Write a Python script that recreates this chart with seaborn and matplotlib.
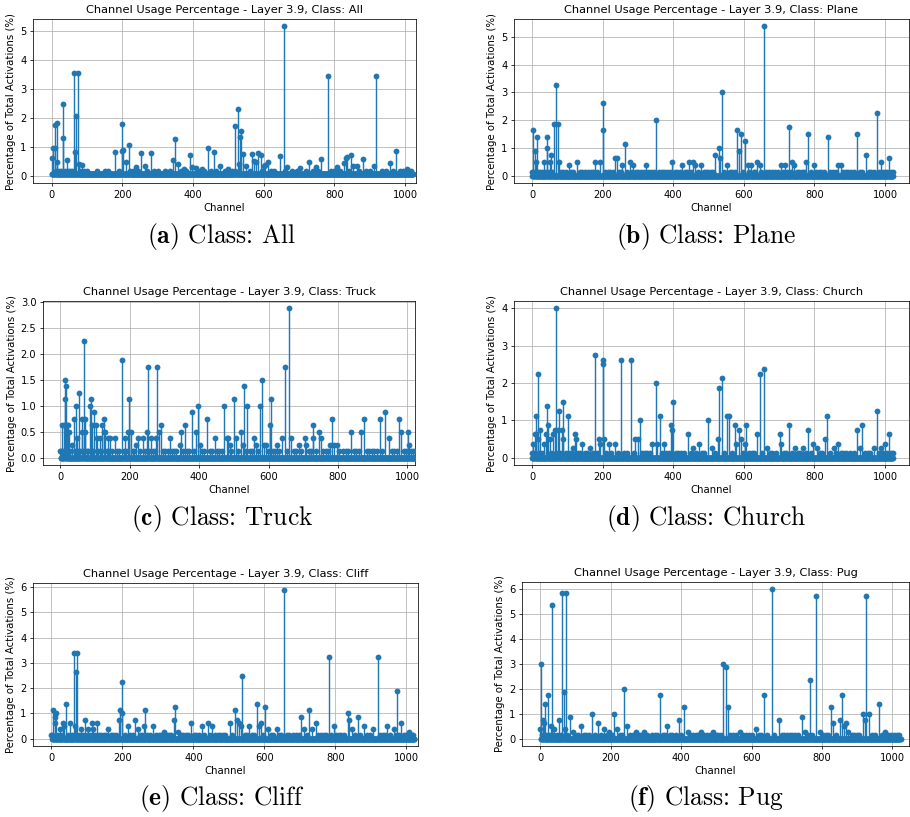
import numpy as np
import pandas as pd
import matplotlib
matplotlib.use("Agg")
import matplotlib.pyplot as plt
from matplotlib.ticker import MultipleLocator
import seaborn as sns

n_channels = 1024
layer = "3.9"

# (a) All  -- peaks, the rest is a small floor
all_peak_ch = [2, 5, 8, 9, 14, 15, 32, 33, 42, 64, 67, 70, 73, 76, 85, 179, 198, 200, 202, 210, 218,
               238, 254, 263, 280, 342, 349, 358, 373, 391, 396, 408, 425, 441, 458, 476, 500,
               518, 526, 529, 533, 537, 542, 550, 567, 573, 578, 584, 591, 600, 605, 611, 645, 656, 666,
               704, 727, 748, 763, 781, 807, 827, 832, 836, 847, 854, 863, 882, 913, 918, 958, 974, 1005]
all_peak_val = [0.6, 0.95, 0.95, 1.75, 1.8, 0.48, 1.29, 2.45, 0.52, 3.55, 0.82, 2.04, 3.55, 0.4, 0.37,
                0.82, 1.78, 0.86, 0.88, 0.45, 1.07, 0.31, 0.77, 0.34, 0.77, 0.55, 1.26, 0.41, 0.23,
                0.72, 0.31, 0.27, 0.23, 0.95, 0.81, 0.32, 0.23, 1.71, 2.28, 0.40, 1.34, 1.54, 0.76, 0.34,
                0.73, 0.5, 0.46, 0.78, 0.72, 0.34, 0.37, 0.48, 0.68, 5.14, 0.29, 0.26, 0.46, 0.29, 0.58,
                3.42, 0.29, 0.43, 0.61, 0.65, 0.72, 0.34, 0.32, 0.56, 0.34, 3.42, 0.43, 0.84, 0.23]
all_low_ch = [12, 20, 26, 38, 47, 52, 58, 80, 92, 100, 128, 150, 160, 190, 222, 230, 245, 270, 290, 300,
              320, 335, 365, 380, 415, 432, 450, 465, 490, 510, 520, 560, 595, 620, 630, 660, 680, 695,
              720, 740, 755, 790, 800, 815, 840, 870, 890, 900, 935, 945, 965, 985, 995, 1012, 1018]
all_low_val = 0.17
all_floor = 0.05

# (b) Plane
plane_peak_ch = [4, 8, 12, 15, 33, 42, 43, 51, 55, 63, 69, 73, 77, 104, 128, 179, 192, 200, 202, 235,
                 240, 255, 264, 278, 287, 322, 351, 396, 426, 444, 455, 463, 479, 519, 529, 533, 538,
                 552, 580, 586, 592, 603, 611, 621, 638, 646, 657, 706, 716, 728, 736, 742, 777, 783,
                 798, 838, 867, 874, 921, 947, 976, 988, 1012]
plane_peak_val = [1.625, 0.875, 0.5, 1.375, 0.5, 1.0, 1.375, 0.5, 0.75, 1.875, 3.25, 1.875, 0.5, 0.375,
                  0.5, 0.5, 0.5, 2.625, 1.625, 0.625, 0.625, 0.375, 1.125, 0.5, 0.375, 0.375, 2.0, 0.5,
                  0.375, 0.5, 0.5, 0.375, 0.375, 0.75, 1.0, 0.625, 3.0, 0.375, 1.625, 0.875, 1.5, 1.25,
                  0.375, 0.375, 0.5, 0.375, 5.375, 0.375, 0.375, 1.75, 0.5, 0.375, 0.5, 1.5, 0.375,
                  1.375, 0.375, 0.375, 1.5, 0.75, 2.25, 0.5, 0.625]
plane_low_ch = [1, 6, 18, 22, 27, 36, 47, 58, 81, 88, 95, 110, 117, 135, 142, 150, 158, 166, 172, 185,
                208, 214, 221, 229, 246, 251, 270, 283, 295, 301, 309, 316, 330, 338, 345, 360, 367,
                374, 383, 390, 404, 412, 419, 433, 440, 451, 470, 486, 493, 500, 507, 514, 545, 560,
                567, 574, 597, 615, 628, 633, 650, 664, 672, 680, 689, 697, 712, 721, 733, 750, 757,
                764, 771, 790, 805, 812, 820, 826, 845, 852, 860, 881, 889, 896, 903, 912, 929, 936,
                954, 961, 968, 982, 995, 1001, 1007, 1018, 1022]

# (c) Truck
truck_peak_ch = [5, 10, 12, 14, 15, 18, 22, 24, 33, 38, 44, 48, 54, 61, 62, 68, 70, 72, 85, 88, 92, 97,
                 102, 106, 113, 121, 125, 126, 130, 138, 144, 157, 178, 186, 195, 197, 203, 217, 225,
                 238, 249, 252, 262, 277, 279, 285, 291, 315, 344, 348, 359, 380, 392, 396, 402, 423,
                 445, 472, 479, 483, 488, 500, 507, 521, 525, 529, 539, 557, 563, 576, 581, 587, 594,
                 603, 607, 624, 638, 646, 658, 665, 687, 704, 709, 727, 728, 746, 750, 777, 783, 789,
                 796, 838, 867, 875, 921, 936, 947, 977, 982, 1001, 1004]
truck_peak_val = [0.625, 0.625, 1.125, 1.5, 1.375, 0.625, 0.625, 0.5, 0.25, 0.75, 1.0, 0.375, 1.25, 0.5,
                  0.75, 2.25, 0.5, 0.75, 1.0, 1.125, 0.625, 0.875, 0.625, 0.375, 0.375, 0.625, 0.5, 0.75,
                  0.5, 0.375, 0.375, 0.375, 1.875, 0.375, 0.5, 1.125, 0.5, 0.25, 0.375, 0.375, 0.5, 1.75,
                  0.375, 0.375, 1.75, 0.5, 0.625, 0.375, 0.25, 0.5, 0.625, 0.875, 0.5, 1.0, 0.25, 0.75,
                  0.375, 1.0, 0.375, 0.375, 0.25, 1.125, 0.375, 0.5, 0.25, 1.375, 1.0, 0.375, 0.25, 1.0,
                  1.5, 0.25, 0.25, 0.625, 1.125, 0.25, 0.375, 1.75, 2.875, 0.375, 0.25, 0.375, 0.25,
                  0.375, 0.625, 0.5, 0.375, 0.25, 0.75, 0.25, 0.25, 0.5, 0.5, 0.75, 0.75, 0.875, 0.375,
                  0.75, 0.5, 0.5, 0.25]
truck_low_ch = [0, 3, 8, 20, 28, 41, 51, 57, 66, 78, 81, 94, 109, 117, 134, 141, 150, 163, 170, 182,
                190, 209, 213, 230, 243, 256, 268, 272, 297, 303, 310, 322, 328, 334, 352, 366, 372,
                385, 409, 415, 430, 437, 452, 458, 466, 493, 513, 534, 546, 551, 570, 599, 614, 619,
                630, 652, 672, 679, 694, 716, 721, 737, 758, 765, 770, 803, 815, 822, 830, 845, 852,
                860, 883, 890, 898, 905, 913, 928, 955, 962, 969, 990, 995, 1010, 1016, 1021]

# (d) Church
church_peak_ch = [3, 8, 11, 12, 16, 17, 24, 33, 39, 43, 45, 50, 60, 64, 69, 74, 76, 86, 88, 89, 102, 116,
                  122, 124, 143, 165, 179, 189, 194, 200, 201, 205, 218, 236, 253, 281, 293, 301, 306,
                  340, 350, 355, 362, 374, 393, 396, 399, 443, 457, 474, 499, 509, 526, 529, 538, 552,
                  558, 575, 578, 586, 592, 604, 607, 638, 646, 657, 666, 702, 706, 728, 746, 769, 783,
                  796, 808, 830, 837, 855, 867, 921, 929, 936, 969, 976, 989, 1000, 1012]
church_peak_val = [0.375, 0.625, 0.625, 1.125, 2.25, 0.5, 0.75, 0.375, 0.625, 1.375, 0.875, 0.5, 0.625,
                   0.75, 4.0, 0.75, 1.25, 0.75, 0.5, 1.5, 1.125, 0.25, 0.625, 0.5, 0.375, 0.25, 2.75,
                   0.5, 0.375, 2.625, 2.5, 0.5, 0.375, 0.375, 2.625, 2.625, 0.5, 0.5, 1.0, 0.375, 2.0,
                   0.375, 1.125, 0.375, 0.875, 0.75, 1.5, 0.625, 0.25, 0.375, 1.0, 0.25, 0.5, 1.875,
                   2.125, 1.125, 1.125, 0.875, 0.375, 0.75, 0.5, 0.375, 0.875, 0.625, 2.25, 2.375, 0.25,
                   0.625, 0.375, 0.875, 0.25, 0.25, 0.75, 0.375, 0.25, 0.5, 1.125, 0.25, 0.375, 0.75,
                   0.25, 0.875, 0.25, 1.25, 0.25, 0.375, 0.625]
church_low_ch = [0, 6, 20, 28, 54, 67, 80, 95, 108, 112, 130, 136, 150, 157, 172, 185, 210, 225, 243,
                 260, 268, 288, 313, 320, 327, 335, 367, 381, 387, 407, 414, 421, 430, 450, 465, 481,
                 488, 517, 545, 566, 598, 615, 622, 630, 652, 674, 681, 690, 713, 720, 737, 753, 760,
                 777, 789, 815, 822, 844, 861, 874, 882, 890, 900, 913, 944, 951, 958, 983, 995, 1006,
                 1018, 1023]

# (e) Cliff
cliff_peak_ch = [5, 9, 11, 14, 24, 33, 36, 42, 52, 63, 65, 68, 72, 83, 95, 104, 113, 118, 127, 160, 189,
                 193, 199, 200, 216, 235, 243, 262, 264, 287, 318, 345, 348, 358, 393, 423, 440, 452,
                 502, 518, 523, 529, 533, 537, 558, 578, 584, 591, 601, 611, 635, 655, 704, 713, 726,
                 735, 745, 781, 796, 835, 838, 848, 865, 882, 907, 919, 946, 964, 974, 986, 1009]
cliff_peak_val = [1.125, 0.875, 0.625, 1.0, 0.375, 0.625, 0.5, 1.375, 0.625, 3.375, 0.5, 2.625, 3.375,
                  0.375, 0.75, 0.375, 0.625, 0.375, 0.625, 0.375, 0.75, 1.125, 2.25, 1.0, 0.5, 0.75,
                  0.375, 0.5, 1.125, 0.5, 0.25, 0.75, 1.25, 0.25, 0.625, 0.5, 0.625, 0.5, 0.625, 1.125,
                  0.75, 0.625, 0.5, 2.5, 0.5, 1.375, 0.5, 0.625, 1.25, 0.375, 0.375, 5.875, 0.875, 0.375,
                  1.125, 0.375, 0.625, 3.25, 0.5, 1.0, 0.75, 0.375, 0.875, 0.5, 0.375, 3.25, 0.5, 0.375,
                  1.875, 0.625, 0.25]
cliff_low_ch = [0, 2, 19, 29, 46, 57, 77, 88, 99, 109, 122, 133, 140, 147, 153, 167, 174, 181, 207, 222,
                229, 250, 256, 270, 277, 295, 302, 310, 325, 332, 338, 365, 372, 380, 386, 401, 408,
                415, 431, 446, 460, 468, 475, 483, 490, 510, 545, 552, 565, 572, 597, 618, 625, 642,
                648, 663, 670, 680, 690, 697, 719, 752, 760, 768, 775, 789, 803, 810, 817, 825, 855,
                870, 890, 897, 927, 934, 940, 953, 970, 980, 993, 1000, 1015, 1020]

# (f) Pug
pug_peak_ch = [0, 2, 8, 10, 13, 21, 31, 32, 40, 54, 63, 67, 69, 72, 83, 92, 116, 146, 164, 182, 196, 208,
               217, 238, 247, 271, 294, 340, 360, 394, 407, 418, 456, 491, 518, 526, 533, 568, 612, 636,
               657, 677, 744, 753, 765, 784, 794, 826, 831, 850, 858, 863, 867, 875, 916, 923, 924, 934,
               963, 979]
pug_peak_val = [0.375, 3.0, 0.75, 0.625, 1.375, 1.75, 0.5, 5.375, 0.375, 0.75, 5.875, 1.875, 0.375, 5.875,
                0.875, 0.25, 0.5, 1.0, 0.625, 0.375, 0.25, 1.0, 0.375, 2.0, 0.5, 0.25, 0.25, 1.75, 0.5,
                0.75, 1.25, 0.25, 0.25, 0.25, 3.0, 2.875, 1.25, 0.25, 0.375, 1.75, 6.0, 0.75, 0.875,
                0.25, 2.375, 5.75, 0.25, 1.25, 0.625, 0.75, 1.75, 0.5, 0.625, 0.25, 1.0, 0.75, 5.75, 1.0,
                1.375, 0.25]
pug_low_ch = [4, 16, 26, 36, 47, 59, 77, 99, 106, 124, 131, 139, 154, 171, 189, 203, 226, 232, 255, 263,
              280, 287, 302, 316, 325, 332, 347, 354, 368, 375, 385, 400, 425, 433, 441, 449, 465, 473,
              481, 499, 506, 513, 540, 548, 556, 576, 584, 592, 600, 620, 628, 645, 665, 685, 693, 700,
              708, 716, 724, 732, 760, 772, 802, 810, 818, 840, 884, 891, 899, 906, 942, 950, 970, 988,
              996, 1004, 1012, 1020]

class_low_val = 0.125


def usage(peak_ch, peak_val, low_ch, low_val, floor):
    pct = np.full(n_channels, floor)
    pct[low_ch] = low_val
    pct[peak_ch] = peak_val
    return pd.DataFrame({"channel": np.arange(n_channels), "pct": pct})


panels = [
    # name, tag, data, axes box in px (left, right, top, bottom), xlim, y tick step
    ("All", "a", usage(all_peak_ch, all_peak_val, all_low_ch, all_low_val, all_floor),
     (33, 416, 19, 183), (-53, 1031), 1),
    ("Plane", "b", usage(plane_peak_ch, plane_peak_val, plane_low_ch, class_low_val, 0.0),
     (514, 909, 19, 183), (-51, 1068), 1),
    ("Truck", "c", usage(truck_peak_ch, truck_peak_val, truck_low_ch, class_low_val, 0.0),
     (43, 415, 301, 465), (-50, 1022), 0.5),
    ("Church", "d", usage(church_peak_ch, church_peak_val, church_low_ch, class_low_val, 0.0),
     (514, 909, 301, 465), (-51, 1068), 1),
    ("Cliff", "e", usage(cliff_peak_ch, cliff_peak_val, cliff_low_ch, class_low_val, 0.0),
     (33, 418, 583, 746), (-52, 1033), 1),
    ("Pug", "f", usage(pug_peak_ch, pug_peak_val, pug_low_ch, class_low_val, 0.0),
     (522, 909, 582, 746), (-52, 1047), 1),
]

W, H, DPI = 910, 817, 68
plt.rcParams["axes.labelsize"] = 10.7
plt.rcParams["xtick.labelsize"] = 10.5
plt.rcParams["ytick.labelsize"] = 10.5
fig = plt.figure(figsize=(W / DPI, H / DPI), dpi=DPI)

for name, tag, df, (l, r, t, b), xlim, ystep in panels:
    ax = fig.add_axes([l / W, 1 - b / H, (r - l) / W, (b - t) / H])
    ax.vlines(df["channel"], 0, df["pct"], color="C0", linewidth=1.5, zorder=2)
    sns.scatterplot(data=df, x="channel", y="pct", ax=ax, color="C0", s=38,
                    linewidth=0, zorder=3)
    ax.plot([0, n_channels - 1], [0, 0], color="C0", linewidth=1.5, zorder=3)
    ax.set_xlim(*xlim)
    ax.xaxis.set_major_locator(MultipleLocator(200))
    ax.yaxis.set_major_locator(MultipleLocator(ystep))
    ax.grid(True)
    ax.set_title(f"Channel Usage Percentage - Layer {layer}, Class: {name}")
    ax.set_xlabel("Channel")
    ax.set_ylabel("Percentage of Total Activations (%)")

    # sub-figure caption: bold tag, roman text (Computer Modern)
    cx = 222 if tag in "ace" else 706
    cy = {"a": 237, "b": 237, "c": 518, "d": 518, "e": 799, "f": 799}[tag]
    fig.text(cx / W, 1 - cy / H, r"$\mathbf{(" + tag + r")}$ Class: " + name,
             family="cmr10", math_fontfamily="cm", fontsize=27, ha="center", va="center")

fig.savefig("out.png", dpi=DPI)
